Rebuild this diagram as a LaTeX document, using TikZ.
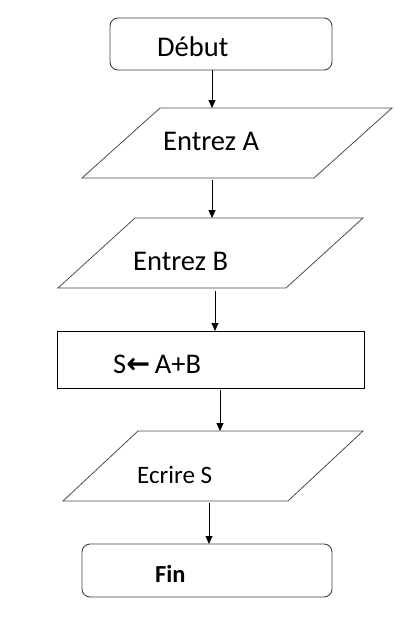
\documentclass[tikz,border=0pt]{standalone}
\usepackage{fontspec}
\setmainfont{Carlito}
\newfontfamily\symfont{DejaVu Sans}
\usetikzlibrary{arrows.meta,calc}
\begin{document}
\begin{tikzpicture}[x=1pt,y=-1pt,
  term/.style={draw=black!75,line width=0.9pt,rounded corners=8pt,inner sep=0pt,outer sep=0pt},
  procbox/.style={draw=black,line width=0.9pt,inner sep=0pt,outer sep=0pt},
  iobox/.style={inner sep=0pt,outer sep=0pt},
  ioline/.style={draw=black!70,line width=0.8pt},
  txt/.style={anchor=base west,inner sep=0pt,font=\fontsize{28.5}{32}\selectfont},
  arr/.style={draw=black,line width=0.9pt,-{Triangle[length=8pt,width=7pt]}}]
\useasboundingbox (0,0) rectangle (419,640);

% Debut
\node[term,minimum width=222pt,minimum height=52pt] (debut) at (221,44) {};
\node[txt] (tdebut) at (157,56) {Début};

% Entrez A
\node[iobox,minimum width=310pt,minimum height=70pt] (pA) at (237,143) {};
\draw[ioline] (pA.south west) -- ($(pA.north west)+(78,0)$) -- (pA.north east) -- ($(pA.south east)+(-78,0)$) -- cycle;
\node[txt] (tA) at (163,150) {Entrez A};

% Entrez B
\node[iobox,minimum width=305pt,minimum height=70pt] (pB) at (210.5,253) {};
\draw[ioline] (pB.south west) -- ($(pB.north west)+(77,0)$) -- (pB.north east) -- ($(pB.south east)+(-77,0)$) -- cycle;
\node[txt] (tB) at (133,270) {Entrez B};

% S <- A+B
\node[procbox,minimum width=307pt,minimum height=57pt] (calc) at (210.5,359.5) {};
\node[txt] (tcalc) at (113,373) {S{\symfont\bfseries ←}\,A+B};

% Ecrire S
\node[iobox,minimum width=300pt,minimum height=70pt] (pS) at (213,466) {};
\draw[ioline] (pS.south west) -- ($(pS.north west)+(75,0)$) -- (pS.north east) -- ($(pS.south east)+(-75,0)$) -- cycle;
\node[txt,font=\fontsize{25}{28}\selectfont] (tS) at (137,483) {Ecrire S};

% Fin
\node[term,minimum width=250pt,minimum height=53pt] (fin) at (207,570.5) {};
\node[txt,font=\fontsize{24.5}{28}\selectfont\bfseries] (tfin) at (155,582) {Fin};

% connectors
\coordinate (c1) at (212,0);
\coordinate (c2) at (212,0);
\coordinate (c3) at (215,0);
\coordinate (c4) at (220,0);
\coordinate (c5) at (209,0);
\draw[arr] (debut.south -| c1) -- (pA.north -| c1);
\draw[arr] ([yshift=-2pt]pA.south -| c2) -- (pB.north -| c2);
\draw[arr] ([yshift=-3pt]pB.south -| c3) -- (calc.north -| c3);
\draw[arr] ([yshift=-2pt]calc.south -| c4) -- (pS.north -| c4);
\draw[arr] ([yshift=-2pt]pS.south -| c5) -- (fin.north -| c5);
\end{tikzpicture}
\end{document}
